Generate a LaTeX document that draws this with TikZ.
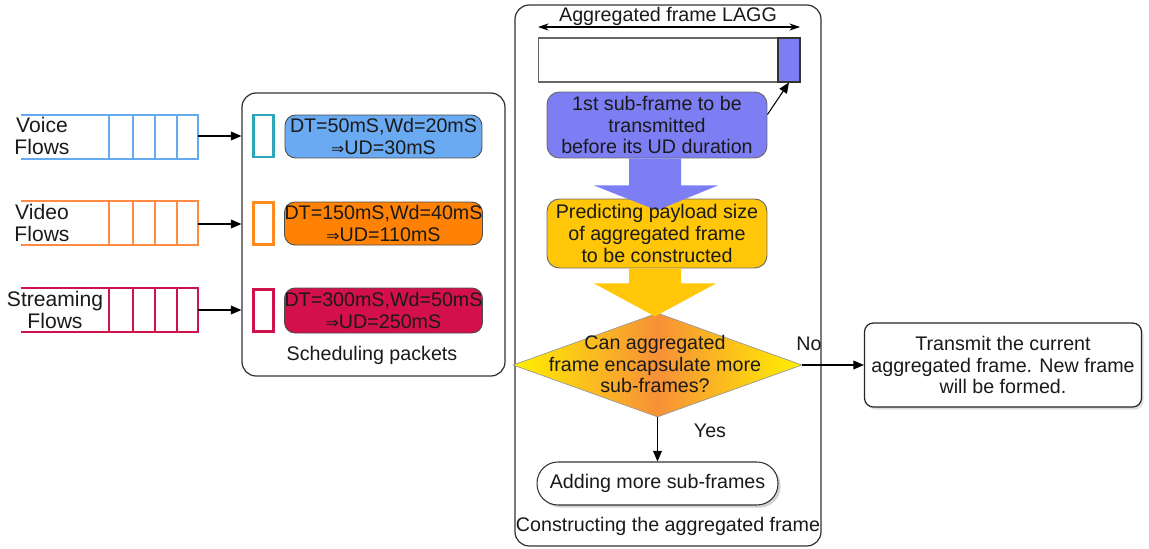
\documentclass[tikz,border=0pt]{standalone}
\usepackage{fontspec}
\setmainfont{Liberation Sans}
\newfontfamily\symf{DejaVu Sans}
\usetikzlibrary{arrows.meta,shapes.geometric,shadows,calc}
\definecolor{voiceq}{HTML}{64AAF0}
\definecolor{voicebox}{HTML}{6AAAF2}
\definecolor{voicesmall}{HTML}{2EA6BA}
\definecolor{videoq}{HTML}{FF8C42}
\definecolor{videobox}{HTML}{FF8205}
\definecolor{videosmall}{HTML}{FF8A1E}
\definecolor{streamq}{HTML}{D0124C}
\definecolor{streambox}{HTML}{D4104A}
\definecolor{subblue}{HTML}{7E7EF4}
\definecolor{goldbox}{HTML}{FFC708}
\definecolor{diayellow}{HTML}{FFF000}
\definecolor{diaorange}{HTML}{F79038}
\definecolor{txt}{HTML}{1A1A1A}
\newcommand\drawqueue[3]{%
  \draw[#1,line width=1.7pt] (21,#2) -- (198,#2) -- (198,#3) -- (21,#3);
  \foreach \xx in {109,133,155,177} \draw[#1,line width=1.7pt] (\xx,#2) -- (\xx,#3);
}
\newcommand\imp{{\symf\fontsize{9}{9}\selectfont ⇒}}
\begin{document}
\begin{tikzpicture}[x=0.02cm,y=-0.02cm,
  font=\fontsize{11.2}{12.4}\selectfont, text=txt,
  arr/.style={-{Triangle[length=6pt,width=5pt]},line width=0.6pt,black},
  panel/.style={draw=black!80,line width=0.7pt,rounded corners=8pt},
  infobox/.style={draw=black!70,line width=0.5pt,rounded corners=6pt,minimum width=3.94cm,minimum height=0.86cm,inner sep=0pt,align=center},
  smallbox/.style={line width=1.3pt,minimum width=0.4cm,minimum height=0.84cm,inner sep=0pt},
  stepbox/.style={draw=black!60,line width=0.5pt,rounded corners=7pt,minimum width=4.4cm,inner sep=0pt,align=center},
  lbl/.style={align=center,inner sep=0pt}
]
\useasboundingbox (0,0) rectangle (1149,548);

% ---------- queues ----------
\drawqueue{voiceq}{115}{159}
\drawqueue{videoq}{201}{245}
\drawqueue{streamq}{288}{332}
\coordinate (vq) at (198,136);
\coordinate (dq) at (198,224);
\coordinate (sq) at (198,310);
\node[lbl,font=\fontsize{12}{12.6}\selectfont] (vlab) at (42,136) {Voice\\Flows};
\node[lbl,font=\fontsize{12}{12.6}\selectfont] (dlab) at (42,223) {Video\\Flows};
\node[lbl,font=\fontsize{12}{12.6}\selectfont] (slab) at (55,310) {Streaming\\Flows};

% ---------- scheduling panel ----------
\node[panel,minimum width=5.26cm,minimum height=5.66cm,inner sep=0pt] (sched) at (373.5,234.5) {};
\node[smallbox,draw=voicesmall] (vs) at (263.5,136) {};
\node[smallbox,draw=videosmall] (ds) at (263.5,223.5) {};
\node[smallbox,draw=streamq] (ss) at (263.5,310.5) {};
\node[infobox,fill=voicebox] (vb) at (383.5,136.5) {DT=50mS,Wd=20mS\\\imp UD=30mS};
\node[infobox,fill=videobox] (db) at (383.5,223.5) {DT=150mS,Wd=40mS\\\imp UD=110mS};
\node[infobox,fill=streambox,minimum height=0.9cm] (sb) at (383.5,310.5) {DT=300mS,Wd=50mS\\\imp UD=250mS};
\node[lbl] (schedlab) at (372,355) {Scheduling packets};
\draw[arr] (vq) -- (vq -| sched.west);
\draw[arr] (dq) -- (dq -| sched.west);
\draw[arr] (sq) -- (sq -| sched.west);

% ---------- aggregation panel ----------
\node[panel,minimum width=6.12cm,minimum height=10.82cm,inner sep=0pt] (agg) at (668,275.5) {};
\node[draw=black!60,line width=0.6pt,minimum width=5.24cm,minimum height=0.88cm,inner sep=0pt] (frame) at (669,60) {};
\node[draw=black!80,fill=subblue,line width=0.6pt,minimum width=0.44cm,minimum height=0.88cm,inner sep=0pt] (blk) at (789,60) {};
\node[lbl] (lagg) at (668,16) {Aggregated frame LAGG};
\coordinate (la) at (538,27);
\coordinate (lb) at (800,27);
\draw[{Stealth[length=6pt,width=4pt]}-{Stealth[length=6pt,width=4pt]},line width=0.6pt] (la) -- (lb);

\node[stepbox,fill=subblue,minimum height=1.32cm] (sub) at (657,125) {1st sub-frame to be\\transmitted\\before its UD duration};
\node[stepbox,fill=goldbox,minimum height=1.38cm] (pred) at (657,233.5) {};
% blue block arrow
\fill[subblue] ($(sub.south)+(-28,0)$) -- ($(sub.south)+(-28,27)$) -- ($(sub.south)+(-63,27)$)
  -- ($(sub.south)+(0,52)$) -- ($(sub.south)+(61,27)$) -- ($(sub.south)+(24,27)$) -- ($(sub.south)+(24,0)$) -- cycle;
\node[lbl] (predtxt) at (pred.center) {Predicting payload size\\of aggregated frame\\to be constructed};

\node[shape=diamond,draw=black!40,line width=0.4pt,minimum width=5.78cm,minimum height=2.08cm,inner sep=0pt,
  left color=diayellow,right color=diayellow,middle color=diaorange] (dia) at (657.5,365) {};
% gold block arrow
\fill[goldbox] ($(pred.south)+(-28,0)$) -- ($(pred.south)+(-28,15)$) -- ($(pred.south)+(-63,15)$)
  -- ($(pred.south)+(-2,48)$) -- ($(pred.south)+(59,15)$) -- ($(pred.south)+(24,15)$) -- ($(pred.south)+(24,0)$) -- cycle;
\node[lbl] (diatxt) at (655,364) {Can aggregated\\frame encapsulate more\\sub-frames?};

\node[draw=black!80,fill=white,line width=0.6pt,rounded corners=0.42cm,minimum width=4.82cm,minimum height=0.86cm,inner sep=0pt,
  drop shadow={shadow xshift=1.5pt,shadow yshift=-1.5pt,opacity=0.35}] (add) at (657.5,483.5) {Adding more sub-frames};
\node[lbl] (conslab) at (668,526) {Constructing the aggregated frame};

\draw[arr] (dia.south) -- (add.north);
\node[lbl] (yes) at (710,431) {Yes};

% ---------- transmit ----------
\node[draw=black!85,fill=white,line width=0.7pt,rounded corners=5pt,minimum width=5.54cm,minimum height=1.68cm,inner sep=0pt,align=center,
  drop shadow={shadow xshift=1.2pt,shadow yshift=-1.5pt,opacity=0.25}] (tx) at (1003,365) {Transmit the current\\aggregated frame. New frame\\will be formed.};
\draw[arr] (dia.east) -- (tx.west);
\node[lbl] (no) at (809,344) {No};

\coordinate (subtr) at ($(sub.north east)+(0,23)$);
\draw[arr] (subtr) -- (blk.south);
\end{tikzpicture}
\end{document}
